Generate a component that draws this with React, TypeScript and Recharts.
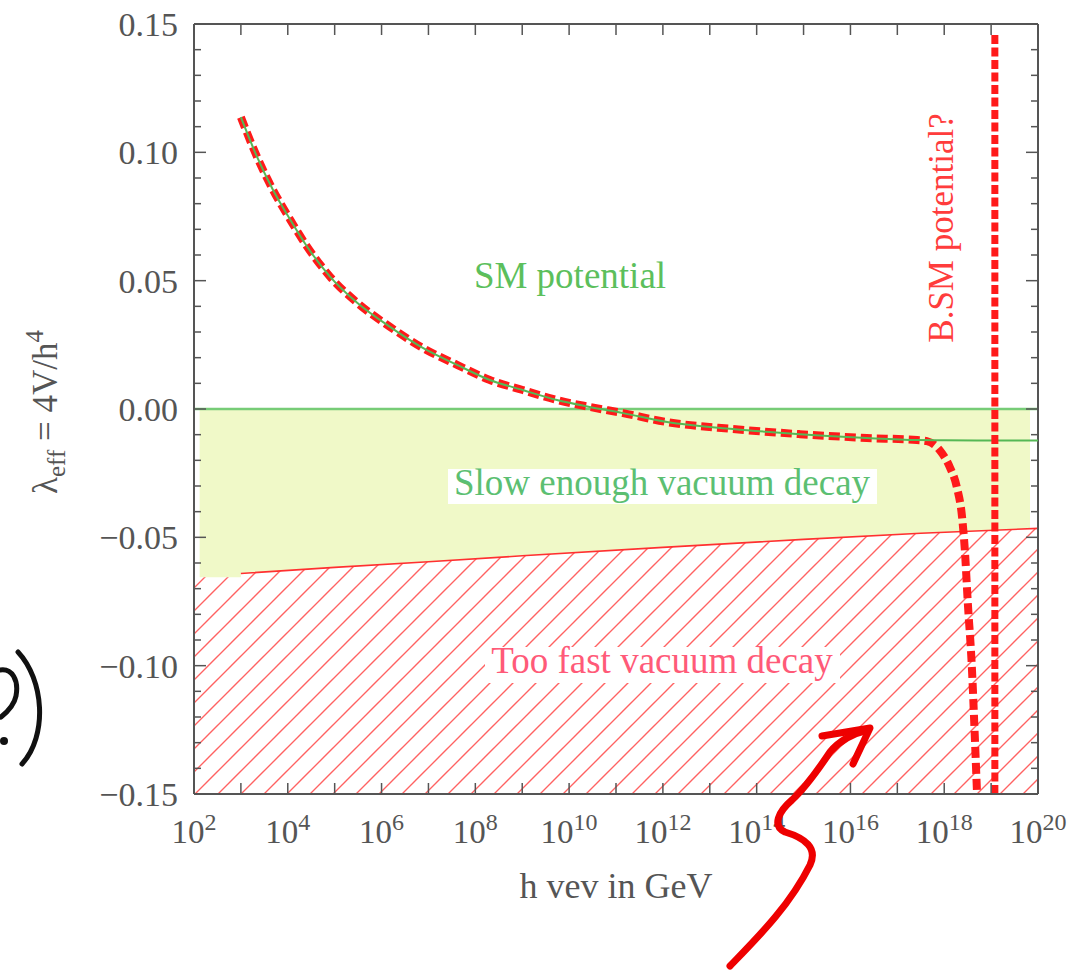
import React from "react";
import {
  ComposedChart,
  Line,
  Area,
  XAxis,
  YAxis,
  ReferenceLine,
} from "recharts";

const W = 1086;
const H = 974;
const PLOT = { left: 194, top: 24, right: 1038, bottom: 794 };
const PLOT_W = PLOT.right - PLOT.left;
const PLOT_H = PLOT.bottom - PLOT.top;

const AXIS = "#555";
const FONT = '"Liberation Serif", "DejaVu Serif", serif';

// SM running quartic, x = log10(h / GeV)
const smLogH = [3, 3.34, 3.68, 4.05, 4.41, 4.9, 5.48, 6.18, 6.88, 7.61, 8.31, 9.01, 9.74, 10.44, 11.15, 12.09, 13.49, 14.92, 16.35, 17.42, 18, 19, 20];
const smLambda = [0.1137, 0.0984, 0.0855, 0.0738, 0.0633, 0.0516, 0.0414, 0.032, 0.0238, 0.0172, 0.0113, 0.0074, 0.0035, 0.0008, -0.0016, -0.0051, -0.0078, -0.0098, -0.0113, -0.0121, -0.0122, -0.0123, -0.0123];

// beyond-SM curve follows SM up to ~1e17.4 GeV, then dives
const bsmLogH = [3, 3.34, 3.68, 4.05, 4.41, 4.9, 5.48, 6.18, 6.88, 7.61, 8.31, 9.01, 9.74, 10.44, 11.15, 12.09, 13.49, 14.92, 16.35, 17.42, 17.63, 17.9, 18.12, 18.27, 18.38, 18.44, 18.5, 18.59, 18.65, 18.7];
const bsmLambda = [0.1137, 0.0984, 0.0855, 0.0738, 0.0633, 0.0516, 0.0414, 0.032, 0.0238, 0.0172, 0.0113, 0.0074, 0.0035, 0.0008, -0.0016, -0.0051, -0.0078, -0.0098, -0.0113, -0.0121, -0.0125, -0.016, -0.0227, -0.0305, -0.042, -0.055, -0.0746, -0.1008, -0.1266, -0.15];

// vertical wall near the Planck scale
const wallLogH = [19.08, 19.08];
const wallLambda = [-0.15, 0.146];

// tunnelling bound (metastability line)
const boundLogH = [3, 5, 7, 9, 12, 15, 17.5, 20];
const boundLambda = [-0.0641, -0.0617, -0.0595, -0.0572, -0.0539, -0.0508, -0.0484, -0.0465];

// yellow "slow enough" band: top is 0, bottom below
const bandLogH = [2.12, 3, 3, 5, 7, 9, 12, 15, 17.5, 19.83];
const bandLow = [-0.0656, -0.0656, -0.0641, -0.0617, -0.0595, -0.0572, -0.0539, -0.0508, -0.0484, -0.0466];

// hatched "too fast" region: from -0.15 up to this
const fastLogH = [2, 3, 3, 5, 7, 9, 12, 15, 17.5, 20];
const fastHigh = [-0.0656, -0.0656, -0.0641, -0.0617, -0.0595, -0.0572, -0.0539, -0.0508, -0.0484, -0.0465];

const xTicks = [2, 3, 4, 5, 6, 7, 8, 9, 10, 11, 12, 13, 14, 15, 16, 17, 18, 19, 20];
const xTickLabels = [2, 4, 6, 8, 10, 12, 14, 16, 18, 20];
const yTickLabels = ["\u22120.15", "\u22120.10", "\u22120.05", "0.00", "0.05", "0.10", "0.15"];
const yTicks = Array.from({ length: 31 }, (_, i) => Math.round((-0.15 + i * 0.01) * 100) / 100);

const smData = smLogH.map((lx, i) => ({ lx, v: smLambda[i] }));
const bsmData = bsmLogH.map((lx, i) => ({ lx, v: bsmLambda[i] }));
const wallData = wallLogH.map((lx, i) => ({ lx, v: wallLambda[i] }));
const boundData = boundLogH.map((lx, i) => ({ lx, v: boundLambda[i] }));
const bandData = bandLogH.map((lx, i) => ({ lx, range: [bandLow[i], 0] }));
const fastData = fastLogH.map((lx, i) => ({ lx, range: [-0.15, fastHigh[i]] }));

function XTick(props: any) {
  const { x, y, payload } = props;
  const n = payload.value as number;
  return (
    <g>
      <line x1={x} x2={x} y1={y} y2={y - 11} stroke={AXIS} strokeWidth={1.5} />
      <line x1={x} x2={x} y1={y - PLOT_H} y2={y - PLOT_H + 11} stroke={AXIS} strokeWidth={1.5} />
      {xTickLabels.includes(n) && (
        <text x={x} y={y + 49} textAnchor="middle" fontFamily={FONT} fontSize={33} fill={AXIS}>
          10
          <tspan dy={-13} fontSize={24}>{n}</tspan>
        </text>
      )}
    </g>
  );
}

function YTick(props: any) {
  const { x, y, payload } = props;
  const cents = Math.round(payload.value * 100);
  const major = cents % 5 === 0;
  const len = major ? 12 : 7;
  const label = major ? yTickLabels[(cents + 15) / 5] : null;
  return (
    <g>
      <line x1={x} x2={x + len} y1={y} y2={y} stroke={AXIS} strokeWidth={1.5} />
      <line x1={x + PLOT_W} x2={x + PLOT_W - len} y1={y} y2={y} stroke={AXIS} strokeWidth={1.5} />
      {label && (
        <text x={x - 16} y={y + 12} textAnchor="end" fontFamily={FONT} fontSize={34} fill={AXIS}>
          {label}
        </text>
      )}
    </g>
  );
}

export default function App() {
  return (
    <div style={{ position: "absolute", left: 0, top: 0, width: W, height: H, background: "#fff" }}>
      <svg width={0} height={0} style={{ position: "absolute" }}>
        <defs>
          <pattern id="fastHatch" patternUnits="userSpaceOnUse" width={23} height={23}>
            <path d="M-3,3 L3,-3 M0,23 L23,0 M20,26 L26,20" stroke="#ff6262" strokeWidth={1.4} />
          </pattern>
        </defs>
      </svg>
      <ComposedChart
        width={W}
        height={H}
        margin={{ top: PLOT.top, right: W - PLOT.right, bottom: H - PLOT.bottom - 80, left: 0 }}
      >
        <XAxis
          type="number"
          dataKey="lx"
          domain={[2, 20]}
          ticks={xTicks}
          interval={0}
          allowDataOverflow
          height={80}
          tickSize={0}
          tickMargin={0}
          tickLine={false}
          axisLine={{ stroke: AXIS, strokeWidth: 2 }}
          tick={(p: any) => <XTick {...p} />}
        />
        <YAxis
          type="number"
          domain={[-0.15, 0.15]}
          ticks={yTicks}
          interval={0}
          allowDataOverflow
          width={PLOT.left}
          tickSize={0}
          tickMargin={0}
          tickLine={false}
          axisLine={{ stroke: AXIS, strokeWidth: 2 }}
          tick={(p: any) => <YTick {...p} />}
        />
        <Area
          data={bandData}
          dataKey="range"
          type="linear"
          stroke="none"
          fill="#f0f9c8"
          fillOpacity={1}
          isAnimationActive={false}
        />
        <Area
          data={fastData}
          dataKey="range"
          type="linear"
          stroke="none"
          fill="url(#fastHatch)"
          fillOpacity={1}
          isAnimationActive={false}
        />
        <Line data={boundData} dataKey="v" type="linear" stroke="#ff3030" strokeWidth={1.6} dot={false} isAnimationActive={false} />
        <ReferenceLine y={0} stroke="#77cc77" strokeWidth={2.5} />
        <ReferenceLine y={0.15} stroke={AXIS} strokeWidth={2} />
        <ReferenceLine x={20} stroke={AXIS} strokeWidth={2} />
        <Line
          data={bsmData}
          dataKey="v"
          type="monotone"
          stroke="#ff1a1a"
          strokeWidth={8}
          strokeDasharray="11 5"
          dot={false}
          isAnimationActive={false}
        />
        <Line data={smData} dataKey="v" type="monotone" stroke="#55b855" strokeWidth={2} dot={false} isAnimationActive={false} />
        <Line
          data={wallData}
          dataKey="v"
          type="linear"
          stroke="#ff1a1a"
          strokeWidth={7}
          strokeDasharray="9 3.5"
          dot={false}
          isAnimationActive={false}
        />
      </ComposedChart>

      <svg
        width={W}
        height={H}
        style={{ position: "absolute", left: 0, top: 0, pointerEvents: "none" }}
        fontFamily={FONT}
      >
        <text x={570} y={288} textAnchor="middle" fontSize={37} fill="#5cbf5c">
          SM potential
        </text>
        <rect x={448} y={469} width={429} height={35} fill="#fff" />
        <text x={662} y={495} textAnchor="middle" fontSize={37} fill="#5cbf72">
          Slow enough vacuum decay
        </text>
        <rect x={485} y={647} width={355} height={36} fill="#fff" />
        <text x={662} y={673} textAnchor="middle" fontSize={37} fill="#ff5a78">
          Too fast vacuum decay
        </text>
        <text transform="translate(953,228) rotate(-90)" textAnchor="middle" fontSize={35} fill="#ff3c3c">
          B.SM potential?
        </text>
        <text x={616} y={898} textAnchor="middle" fontSize={36} fill={AXIS}>
          h vev in GeV
        </text>
        <text transform="translate(57,412) rotate(-90)" textAnchor="middle" fontSize={35} fill={AXIS}>
          λ<tspan dy={8} fontSize={25}>eff</tspan>
          <tspan dy={-8}> = 4V/h</tspan>
          <tspan dy={-14} fontSize={25}>4</tspan>
        </text>

        {/* pen marks */}
        <g fill="none" stroke="#111" strokeWidth={5} strokeLinecap="round">
          <path d="M18,652 C44,680 48,735 22,764" />
          <path d="M0,670 C12,668 19,680 16,696 C14,706 6,713 1,717" />
        </g>
        <circle cx={4} cy={741} r={4} fill="#111" />
        <g fill="none" stroke="#ee0000" strokeWidth={7} strokeLinecap="round" strokeLinejoin="round">
          <path d="M730,966 C760,935 790,905 810,865 C818,848 805,838 785,832 C772,826 778,812 792,800 C805,788 818,770 830,752 C840,740 855,733 868,730" />
          <path d="M822,736 L870,728 L853,764" />
        </g>
      </svg>
    </div>
  );
}
